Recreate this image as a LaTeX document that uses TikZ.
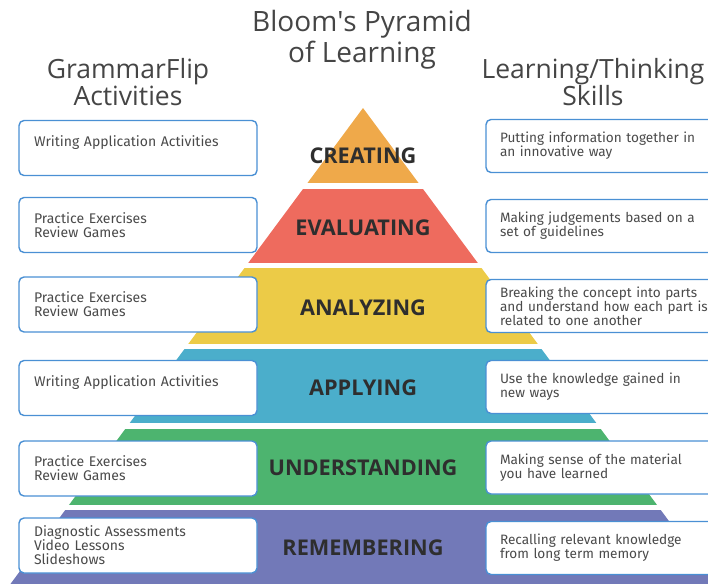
\documentclass[tikz,border=0pt]{standalone}
\usepackage{fontspec}
\setmainfont{Open Sans}
\newfontfamily\boxfont{Fira Sans}
\usetikzlibrary{positioning}

\definecolor{creatingc}{HTML}{EFA94A}
\definecolor{evaluatingc}{HTML}{EE6B5E}
\definecolor{analyzingc}{HTML}{ECCB47}
\definecolor{applyingc}{HTML}{4BAECB}
\definecolor{understandingc}{HTML}{4DB46F}
\definecolor{rememberingc}{HTML}{7279B8}
\definecolor{boxblue}{HTML}{4A90D4}
\definecolor{titlegray}{HTML}{454545}
\definecolor{textgray}{HTML}{4A4A4A}
\definecolor{levelgray}{HTML}{2E2E2E}

\begin{document}
\begin{tikzpicture}[
    x=1pt, y=-1pt,
    title/.style = {align=center, text=titlegray, font=\fontsize{26.5}{23}\selectfont},
    level/.style = {text=levelgray, font=\fontsize{21.7}{24}\selectfont\bfseries},
    activity/.style = {rectangle, draw=boxblue, line width=1.4pt, fill=white, rounded corners=5pt, minimum height=55pt, text width=208pt, inner xsep=15pt, align=left, text=textgray, font=\boxfont\fontsize{14}{14}\selectfont},
    skill/.style = {activity, minimum height=53pt, text width=226pt, inner xsep=14pt, font=\boxfont\fontsize{13.6}{14}\selectfont},
]
\clip (0,0) rectangle (708,583);

% Headings
\node [title, font=\fontsize{28}{31}\selectfont] (bloom) at (362,40) {Bloom\textquotesingle s Pyramid\\of Learning};
\node [title] (activities) at (128,82) {GrammarFlip\\Activities};
\node [title] (skills) at (593,82) {Learning/Thinking\\Skills};

% Pyramid bands
\begin{scope}
    \clip (363,108) -- (6,590) -- (720,590) -- cycle;
    \fill [creatingc] (0,108) rectangle (708,183);
    \fill [evaluatingc] (0,189) rectangle (708,263);
    \fill [analyzingc] (0,268) rectangle (708,344);
    \fill [applyingc] (0,349) rectangle (708,423);
    \fill [understandingc] (0,429) rectangle (708,505);
    \fill [rememberingc] (0,510) rectangle (708,590);
\end{scope}

% Levels
\node [level] (creating) at (363,156) {CREATING};
\node [level] (evaluating) at (363,228) {EVALUATING};
\node [level] (analyzing) at (363,308) {ANALYZING};
\node [level] (applying) at (363,388) {APPLYING};
\node [level] (understanding) at (363,468) {UNDERSTANDING};
\node [level] (remembering) at (363,548) {REMEMBERING};

% GrammarFlip activities
\node [activity] (act1) at (138,148) {Writing Application Activities\\\mbox{}};
\node [activity] (act2) at (138,225) {Practice Exercises\\Review Games};
\node [activity] (act3) at (138,304.5) {Practice Exercises\\Review Games};
\node [activity] (act4) at (138,388) {Writing Application Activities\\\mbox{}};
\node [activity] (act5) at (138,468.5) {Practice Exercises\\Review Games};
\node [activity] (act6) at (138,545.5) {Diagnostic Assessments\\Video Lessons\\Slideshows};

% Thinking skills
\node [skill] (skill1) at (613,146) {Putting information together in\\an innovative way};
\node [skill] (skill2) at (613,226) {Making judgements based on a\\set of guidelines};
\node [skill] (skill3) at (613,306) {Breaking the concept into parts\\and understand how each part is\\related to one another};
\node [skill] (skill4) at (613,387) {Use the knowledge gained in\\new ways};
\node [skill] (skill5) at (613,467.5) {Making sense of the material\\you have learned};
\node [skill] (skill6) at (613,548) {Recalling relevant knowledge\\from long term memory};

\end{tikzpicture}
\end{document}
